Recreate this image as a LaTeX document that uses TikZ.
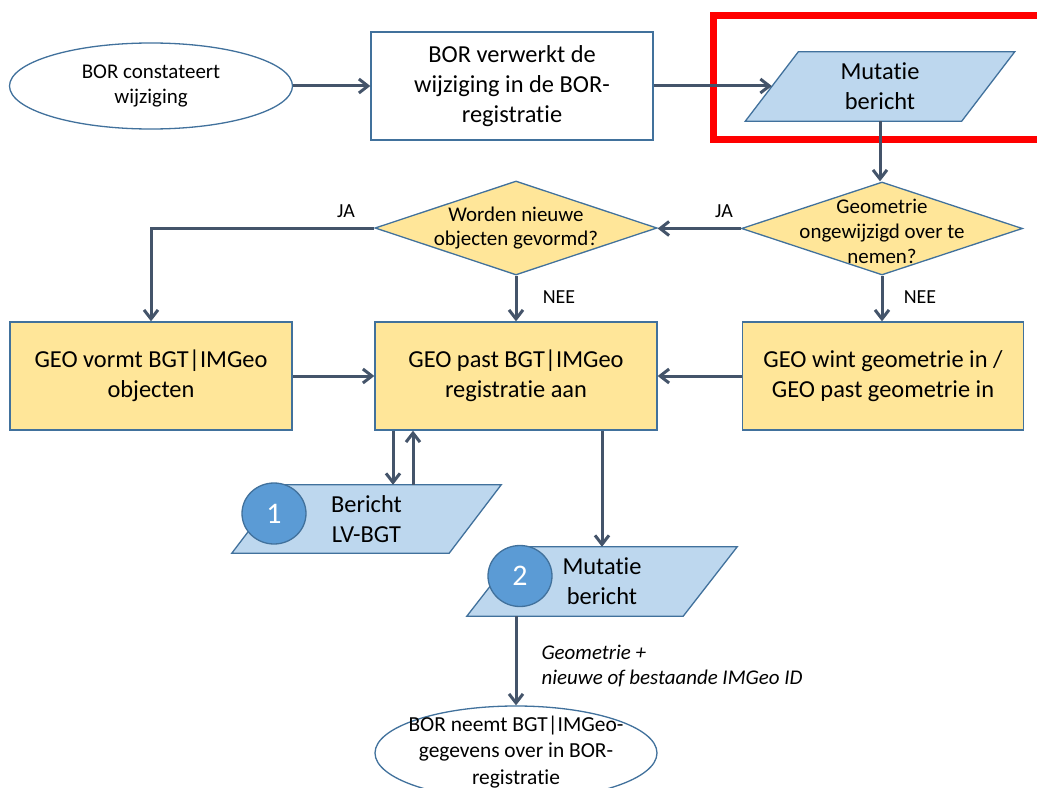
\documentclass[tikz,border=0pt]{standalone}
\usepackage{fontspec}
\setmainfont{Carlito}[Ligatures=NoCommon]
\usetikzlibrary{arrows.meta,shapes.geometric,calc,backgrounds}

\definecolor{flowline}{HTML}{44546A}
\definecolor{shapeedge}{HTML}{41719C}
\definecolor{procfill}{HTML}{FFE699}
\definecolor{datafill}{HTML}{BDD7EE}
\definecolor{badgefill}{HTML}{5B9BD5}
\definecolor{markred}{HTML}{FF0000}

\tikzset{
  flow/.style={draw=flowline, line width=3bp, -{Straight Barb[length=9bp,width=14bp]}},
  outline/.style={draw=shapeedge, line width=1.3bp},
  terminal/.style={ellipse, outline, fill=white, inner sep=0pt},
  whitebox/.style={rectangle, outline, fill=white, inner sep=0pt, align=center},
  procbox/.style={whitebox, fill=procfill},
  decision/.style={diamond, outline, fill=procfill, inner sep=0pt},
  dataframe/.style={rectangle, inner sep=0pt, align=center},
  iobox/.style={outline, fill=datafill},
  badge/.style={ellipse, outline, fill=badgefill, text=white, inner sep=0pt,
    minimum width=64bp, minimum height=61bp, font=\fontsize{30}{36}\selectfont},
  bigtxt/.style={font=\fontsize{24.5}{30}\selectfont},
  midtxt/.style={font=\fontsize{21}{26}\selectfont, align=center},
  asktxt/.style={font=\fontsize{21}{25}\selectfont, align=center},
  tag/.style={font=\fontsize{20}{24}\selectfont},
}

% parallelogram (data symbol) drawn round a rectangular frame node:
% #1 = frame node, #2 = half the horizontal slant
\newcommand{\slantframe}[2]{%
  \path[iobox] ($(#1.south west)+(-#2,0)$) -- ($(#1.south east)+(-#2,0)$)
    -- ($(#1.north east)+(#2,0)$) -- ($(#1.north west)+(#2,0)$) -- cycle;}

\begin{document}
\begin{tikzpicture}[x=1bp, y=-1bp]
\useasboundingbox (0,0) rectangle (1037,788);
\clip (0,0) rectangle (1037,788);

% highlight frame round the first message
\draw[markred, line width=7bp] (713.5,15.5) rectangle (1060,139);

% top row
\node[terminal, midtxt, minimum width=283bp, minimum height=86bp] (start) at (151,86)
  {BOR constateert\\wijziging};
\node[whitebox, bigtxt, minimum width=282bp, minimum height=108bp] (borProc) at (512,86)
  {BOR verwerkt de\\wijziging in de BOR-\\registratie};
\node[dataframe, bigtxt, minimum width=216bp, minimum height=69bp] (mut1) at (880,86.5)
  {Mutatie\\bericht};

% decisions
\node[decision, minimum width=282bp, minimum height=94bp] (askNew) at (516,228) {};
\node[asktxt] at (askNew.center) {Worden nieuwe\\objecten gevormd?};
\node[decision, minimum width=281bp, minimum height=93bp] (askGeo) at (882,228.5) {};
\node[asktxt] at ($(askGeo.center)+(0,3)$) {Geometrie\\ongewijzigd over te\\nemen?};

% process boxes
\node[procbox, bigtxt, minimum width=282bp, minimum height=108bp] (geoForm) at (151,376)
  {GEO vormt BGT|IMGeo\\objecten};
\node[procbox, bigtxt, minimum width=282bp, minimum height=108bp] (geoEdit) at (516,376)
  {GEO past BGT|IMGeo\\registratie aan};
\node[procbox, bigtxt, minimum width=281bp, minimum height=108bp] (geoWin) at (883,376)
  {GEO wint geometrie in /\\GEO past geometrie in};

% outgoing messages
\node[dataframe, bigtxt, minimum width=217bp, minimum height=68bp] (lvbgt) at (366.5,519)
  {Bericht\\LV-BGT};
\node[dataframe, bigtxt, minimum width=216bp, minimum height=69bp] (mut2) at (602,581.5)
  {Mutatie\\bericht};

\begin{scope}[on background layer]
  \slantframe{mut1}{26.5}
  \slantframe{lvbgt}{26}
  \slantframe{mut2}{27}
\end{scope}

\node[badge] (b1) at (274,513.5) {1};
\node[badge] (b2) at (520,576) {2};

% end state
\node[terminal, minimum width=282bp, minimum height=94bp] (finish) at (516,753) {};
\node[font=\fontsize{21.5}{26.5}\selectfont, align=center] at (516,752)
  {BOR neemt BGT|IMGeo-\\gegevens over in BOR-\\registratie};

% connectors
\coordinate (xDown) at (393,0);
\coordinate (xUp) at (413,0);

\draw[flow] (start.east) -- (borProc.west);
\draw[flow] (borProc.east) -- (mut1.west |- borProc.east);
\draw[flow] (mut1.south) -- (mut1.south |- askGeo.north);
\draw[flow] (askGeo.west) -- (askNew.east |- askGeo.west);
\draw[flow] (askNew.west) -| (geoForm.north);
\draw[flow] (askNew.south) -- (geoEdit.north);
\draw[flow] (askGeo.south) -- (askGeo.south |- geoWin.north);
\draw[flow] (geoForm.east) -- (geoEdit.west);
\draw[flow] (geoWin.west) -- (geoEdit.east);
\draw[flow] (geoEdit.south -| xDown) -- (lvbgt.north -| xDown);
\draw[flow] (lvbgt.north -| xUp) -- (geoEdit.south -| xUp);
\draw[flow] (geoEdit.south -| mut2.north) -- (mut2.north);
\draw[flow] (mut2.south -| finish.north) -- (finish.north);

% connector labels
\node[tag] at (724,211) {JA};
\node[tag] at (346,211) {JA};
\node[tag] at (559,297) {NEE};
\node[tag] at (920,297) {NEE};
\node[font=\fontsize{21}{25}\selectfont\itshape, align=left, anchor=west] at (538,666)
  {Geometrie +\\nieuwe of bestaande IMGeo ID};
\end{tikzpicture}
\end{document}
